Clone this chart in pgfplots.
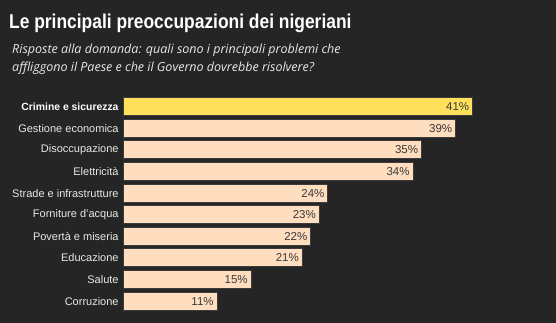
\documentclass[border=0pt]{standalone}
\usepackage{pgfplots}
\pgfplotsset{compat=1.18}
\usepackage{fontspec}
\setmainfont{Liberation Sans}
\newfontfamily\subfont{Open Sans}
\definecolor{bg}{HTML}{252525}
\definecolor{peach}{HTML}{FFDDBF}
\definecolor{hl}{HTML}{FFE05C}
\definecolor{edge}{HTML}{3C3C3C}
\definecolor{valtxt}{HTML}{3A3A3A}
\definecolor{lbl}{HTML}{E8E8E8}
\begin{document}
\begin{tikzpicture}[x=1pt,y=1pt]
\fill[bg] (0,0) rectangle (556,323);
\useasboundingbox (0,0) rectangle (556,323);
\node[anchor=base west, inner sep=0, text=white, font=\fontsize{20}{22}\selectfont\bfseries] at (9,294) {\scalebox{0.87}[1]{Le principali preoccupazioni dei nigeriani}};
\node[anchor=base west, inner sep=0, text=lbl, font=\subfont\itshape\fontsize{12.5}{15}\selectfont] at (12,269) {Risposte alla domanda: quali sono i principali problemi che};
\node[anchor=base west, inner sep=0, text=lbl, font=\subfont\itshape\fontsize{12.5}{15}\selectfont] at (12,251) {affliggono il Paese e che il Governo dovrebbe risolvere?};
\begin{axis}[
  at={(123.3pt,11.1pt)}, anchor=south west,
  scale only axis, width=426pt, height=216pt,
  xmin=0, xmax=50, ymin=-0.5, ymax=9.5,
  y dir=reverse,
  xbar, bar width=18pt, bar shift=0pt,
  axis line style={draw=none}, tick style={draw=none},
  major tick length=0pt,
  xtick=\empty,
  ytick={0,...,9},
  /pgf/number format/assume math mode=true,
  yticklabels={\textcolor{white}{\fontsize{10.4}{13}\selectfont\textbf{Crimine e sicurezza}},Gestione economica,Disoccupazione,Elettricità,Strade e infrastrutture,Forniture d'acqua,Povertà e miseria,Educazione,Salute,Corruzione},
  yticklabel style={font=\fontsize{11}{13}\selectfont, text=lbl, inner sep=0pt, xshift=-4.5pt},
  nodes near coords={\pgfmathprintnumber{\pgfplotspointmeta}\%},
  point meta=explicit,
  every node near coord/.append style={anchor=east, xshift=-3pt, font=\fontsize{11.5}{13}\selectfont, text=valtxt, inner sep=0pt},
  clip=false,
]
\addplot[fill=hl, draw=edge, line width=0.8pt] coordinates {(41,0) [41]};
\addplot[fill=peach, draw=edge, line width=0.8pt] coordinates {(39,1) [39] (35,2) [35] (34,3) [34] (24,4) [24] (23,5) [23] (22,6) [22] (21,7) [21] (15,8) [15] (11,9) [11]};
\end{axis}
\end{tikzpicture}
\end{document}
